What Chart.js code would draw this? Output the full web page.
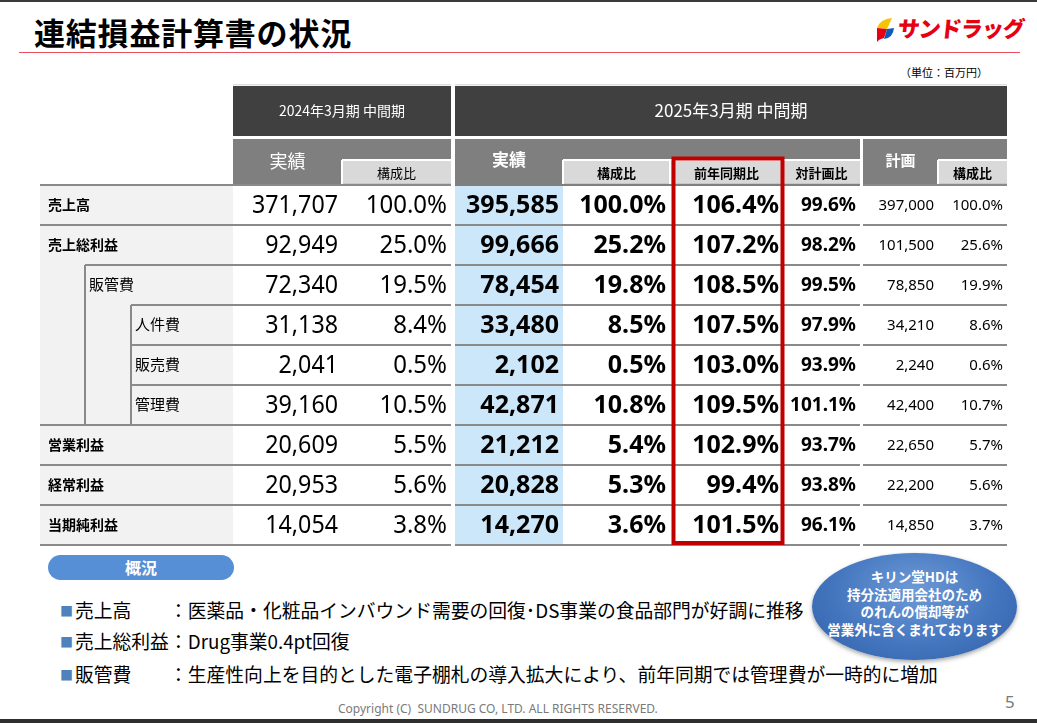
<!DOCTYPE html>
<html lang="ja">
<head>
<meta charset="utf-8">
<title>連結損益計算書の状況</title>
<script src="https://cdn.jsdelivr.net/npm/chart.js@4.4.1/dist/chart.umd.min.js"></script>
<style>
  html, body { margin: 0; padding: 0; background: #fff; }
  body { width: 1037px; height: 723px; position: relative; overflow: hidden;
         font-family: "Noto Sans CJK JP", "Noto Sans", sans-serif; color: #000; }
  .topline { position: absolute; left: 0; top: 0; width: 1037px; height: 2px; background: #3a3a3a; }
  .bottombar { position: absolute; left: 0; top: 719px; width: 1037px; height: 4px; background: #2e2e2e; }
  .title { position: absolute; left: 34px; top: 9px; font-size: 31px; font-weight: 700; letter-spacing: 0.8px; }
  .redline { position: absolute; left: 19px; top: 52px; width: 1001px; height: 1px; background: #e8505d; }
  .logo { position: absolute; left: 875px; top: 17px; height: 28px; }
  .logo span { position: absolute; left: 23px; top: -6px; font-size: 22px; font-weight: 900; color: #e60012;
               white-space: nowrap; letter-spacing: -1px; transform: skewX(-6deg); }
  .unit { position: absolute; left: 900px; top: 64px; font-size: 11px; }
  #wrap { position: absolute; left: 38px; top: 84px; width: 972px; height: 465px; }
  .pill { position: absolute; left: 48px; top: 555px; width: 186px; height: 25px; border-radius: 13px;
          background: #568fd6; color: #fff; font-weight: 700; font-size: 16px; text-align: center; line-height: 25px; }
  .notes { position: absolute; left: 60px; top: 595px; font-size: 18.8px; line-height: 30px; }
  .notes div { white-space: nowrap; }
  .notes .b { color: #4f81bd; font-size: 13px; display: inline-block; width: 15px; vertical-align: 2px; }
  .notes .k { display: inline-block; width: 94px; }
  .bubble { position: absolute; left: 812px; top: 553px; width: 205px; height: 107px; border-radius: 50%;
            background: radial-gradient(ellipse at 50% 35%, #6e9ad6 0%, #4476bf 55%, #2f5fa6 100%);
            box-shadow: 0 2px 4px rgba(0,0,0,0.35);
            color: #fff; font-weight: 700; font-size: 13.5px; line-height: 17.5px; text-align: center;
            box-sizing: border-box; padding-top: 15px; }
  .copy { position: absolute; left: 338px; top: 700px; font-size: 12px; color: #7a7a7a; font-family: "Noto Sans", sans-serif; white-space: pre; }
  .page { position: absolute; left: 1005px; top: 690px; font-size: 17px; color: #7a7a7a; font-family: "Noto Sans", sans-serif; }
</style>
</head>
<body>
<div class="topline"></div>
<div class="title">連結損益計算書の状況</div>
<div class="redline"></div>
<div class="logo">
  <svg width="21" height="26" viewBox="0 0 21 26">
    <path d="M2 11 Q5 2 17 1 L12 12 Z" fill="#f6c400"/>
    <path d="M2 11 L12 12 L9 21 Q4 22 2 25 Z" fill="#e60012"/>
    <path d="M12 12 L19 11 Q18 21 9 22 Z" fill="#0a5cb8"/>
  </svg>
  <span>サンドラッグ</span>
</div>
<div class="unit">（単位：百万円）</div>

<div id="wrap"><canvas id="table" width="972" height="465"></canvas></div>

<div class="pill">概況</div>
<div class="notes">
  <div><span class="b">■</span><span class="k">売上高</span>：医薬品・化粧品インバウンド需要の回復･DS事業の食品部門が好調に推移</div>
  <div><span class="b">■</span><span class="k">売上総利益</span>：Drug事業0.4pt回復</div>
  <div style="margin-top:2px"><span class="b">■</span><span class="k">販管費</span>：生産性向上を目的とした電子棚札の導入拡大により、前年同期では管理費が一時的に増加</div>
</div>
<div class="bubble">キリン堂HDは<br>持分法適用会社のため<br>のれんの償却等が<br>営業外に含くまれております</div>
<div class="copy">Copyright (C)  SUNDRUG CO, LTD. ALL RIGHTS RESERVED.</div>
<div class="page">5</div>
<div class="bottombar"></div>

<script>
/* data */
const items = ['売上高', '売上総利益', '販管費', '人件費', '販売費', '管理費', '営業利益', '経常利益', '当期純利益'];
const levels = [0, 0, 1, 2, 2, 2, 0, 0, 0];
const prevActual = [371707, 92949, 72340, 31138, 2041, 39160, 20609, 20953, 14054];
const prevRatio = [100.0, 25.0, 19.5, 8.4, 0.5, 10.5, 5.5, 5.6, 3.8];
const curActual = [395585, 99666, 78454, 33480, 2102, 42871, 21212, 20828, 14270];
const curRatio = [100.0, 25.2, 19.8, 8.5, 0.5, 10.8, 5.4, 5.3, 3.6];
const yoyRatio = [106.4, 107.2, 108.5, 107.5, 103.0, 109.5, 102.9, 99.4, 101.5];
const vsPlan = [99.6, 98.2, 99.5, 97.9, 93.9, 101.1, 93.7, 93.8, 96.1];
const planValue = [397000, 101500, 78850, 34210, 2240, 42400, 22650, 22200, 14850];
const planRatio = [100.0, 25.6, 19.9, 8.6, 0.6, 10.7, 5.7, 5.6, 3.7];
const periodLabels = ['2024年3月期 中間期', '2025年3月期 中間期'];

/* layout (x in table units, y in row units) */
const colEdges = [0, 193, 302, 411, 415, 523, 630, 743, 820, 823, 898, 967];
const head1 = [-2.475, -1.225];
const head2 = [-1.15, 0];
const subTop = -0.625;

const num = v => v.toLocaleString('en-US');
const pct = v => v.toFixed(1) + '%';

// value columns: [left, right, values, formatter, font, horizontal squeeze]
const valueCols = [
  [colEdges[1], colEdges[2], prevActual, num, '400 25px "Noto Sans"', 0.93],
  [colEdges[2], colEdges[3], prevRatio, pct, '400 25px "Noto Sans"', 0.96],
  [colEdges[4], colEdges[5], curActual, num, '700 25px "Noto Sans"', 1],
  [colEdges[5], colEdges[6], curRatio, pct, '700 25px "Noto Sans"', 1],
  [colEdges[6], colEdges[7], yoyRatio, pct, '700 25px "Noto Sans"', 1],
  [colEdges[7], colEdges[8], vsPlan, pct, '700 19px "Noto Sans"', 1],
  [colEdges[9], colEdges[10], planValue, num, '400 15px "Noto Sans"', 1],
  [colEdges[10], colEdges[11], planRatio, pct, '400 15px "Noto Sans"', 1]
];

/* plugin that paints the table through the chart scales */
const tablePlugin = {
  id: 'tablePainter',
  afterDraw(chart) {
    const ctx = chart.ctx;
    const X = v => chart.scales.x.getPixelForValue(v);
    const Y = v => chart.scales.y.getPixelForValue(v);
    const rect = (x0, x1, y0, y1, color) => {
      ctx.fillStyle = color;
      ctx.fillRect(X(x0), Y(y0), X(x1) - X(x0), Y(y1) - Y(y0));
    };
    const hline = (x0, x1, y, color, w) => {
      ctx.strokeStyle = color; ctx.lineWidth = w;
      ctx.beginPath(); ctx.moveTo(X(x0), Y(y)); ctx.lineTo(X(x1), Y(y)); ctx.stroke();
    };
    const vline = (x, y0, y1, color, w) => {
      ctx.strokeStyle = color; ctx.lineWidth = w;
      ctx.beginPath(); ctx.moveTo(X(x), Y(y0)); ctx.lineTo(X(x), Y(y1)); ctx.stroke();
    };
    const text = (s, x, y, font, color, align, squeeze = 1) => {
      ctx.save();
      ctx.font = font; ctx.fillStyle = color; ctx.textAlign = align; ctx.textBaseline = 'middle';
      ctx.translate(X(x), Y(y));
      ctx.scale(squeeze, 1);
      ctx.fillText(s, 0, 0);
      ctx.restore();
    };
    const n = items.length;
    ctx.save();

    // backgrounds
    rect(colEdges[0], colEdges[1], 0, n, '#f2f2f2');
    rect(colEdges[4], colEdges[5], 0, n, '#cde7fa');

    // header row 1
    rect(colEdges[1], colEdges[3], head1[0], head1[1], '#404040');
    rect(colEdges[4], colEdges[11], head1[0], head1[1], '#404040');
    hline(colEdges[1], colEdges[3], head1[0] - 0.03, '#d0d0d0', 1);
    hline(colEdges[4], colEdges[11], head1[0] - 0.03, '#d0d0d0', 1);
    text(periodLabels[0], (colEdges[1] + colEdges[3]) / 2, (head1[0] + head1[1]) / 2, '400 14px "Noto Sans CJK JP"', '#fff', 'center');
    text(periodLabels[1], (colEdges[4] + colEdges[11]) / 2, (head1[0] + head1[1]) / 2, '400 17px "Noto Sans CJK JP"', '#fff', 'center');

    // header row 2
    rect(colEdges[1], colEdges[3], head2[0], head2[1], '#7f7f7f');
    rect(colEdges[4], colEdges[8], head2[0], head2[1], '#7f7f7f');
    rect(colEdges[9], colEdges[11], head2[0], head2[1], '#7f7f7f');
    const subCells = [[2, 3, '400'], [5, 6, '700'], [6, 7, '700'], [7, 8, '700'], [10, 11, '700']];
    const subNames = ['構成比', '構成比', '前年同期比', '対計画比', '構成比'];
    subCells.forEach(([a, b, w], i) => {
      rect(colEdges[a], colEdges[b], subTop, head2[1] - 0.03, '#d9d9d9');
      hline(colEdges[a], colEdges[b], subTop, '#fff', 2);
      vline(colEdges[a], subTop, head2[1], '#fff', 2);
      text(subNames[i], (colEdges[a] + colEdges[b]) / 2, (subTop + head2[1]) / 2 + 0.01, w + ' 13px "Noto Sans CJK JP"', '#000', 'center');
    });
    text('実績', (colEdges[1] + colEdges[2]) / 2, -0.6, '400 18px "Noto Sans CJK JP"', '#fff', 'center');
    text('実績', (colEdges[4] + colEdges[5]) / 2, -0.63, '700 17px "Noto Sans CJK JP"', '#fff', 'center');
    text('計画', (colEdges[9] + colEdges[10]) / 2, -0.62, '700 15px "Noto Sans CJK JP"', '#fff', 'center');

    // row lines
    const lineCol = '#8a8a8a';
    for (let r = 0; r <= n; r++) {
      let start = colEdges[0];
      if (r < n && r > 0 && levels[r] > 0) start = levels[r] === 1 ? 45 : 91;
      hline(start, colEdges[3], r, lineCol, 2);
      hline(colEdges[4], colEdges[8], r, r === 0 ? '#7f7f7f' : lineCol, 2);
      hline(colEdges[9], colEdges[11], r, lineCol, 2);
    }
    // tree lines for sub items
    const firstL1 = levels.indexOf(1), lastSub = levels.lastIndexOf(2);
    const firstL2 = levels.indexOf(2);
    vline(45, firstL1, lastSub + 1, lineCol, 2);
    vline(91, firstL2, lastSub + 1, lineCol, 2);

    // row labels
    items.forEach((label, r) => {
      const lv = levels[r];
      const x = lv === 0 ? 8 : lv === 1 ? 49 : 95;
      const font = lv === 0 ? '700 14px "Noto Sans CJK JP"' : '400 15px "Noto Sans CJK JP"';
      text(label, x, r + 0.48, font, '#000', 'left');
    });

    // values
    valueCols.forEach(([l, rgt, vals, fmt, font, sq]) => {
      vals.forEach((v, r) => text(fmt(v), rgt - 4, r + 0.52, font, '#000', 'right', sq));
    });

    // highlight box on YoY column
    ctx.strokeStyle = '#c00000'; ctx.lineWidth = 4;
    ctx.strokeRect(X(633.5), Y(-0.6625), X(742.5) - X(633.5), Y(8.95) - Y(-0.6625));
    ctx.restore();
  }
};

new Chart(document.getElementById('table').getContext('2d'), {
  type: 'scatter',
  data: { datasets: [] },
  options: {
    responsive: false,
    animation: false,
    layout: { padding: 0 },
    plugins: { legend: { display: false }, tooltip: { enabled: false } },
    scales: {
      x: { type: 'linear', min: -2, max: 970, offset: false, display: false },
      y: { type: 'linear', min: -2.525, max: 9.1, reverse: true, offset: false, display: false }
    }
  },
  plugins: [tablePlugin]
});
</script>
</body>
</html>
